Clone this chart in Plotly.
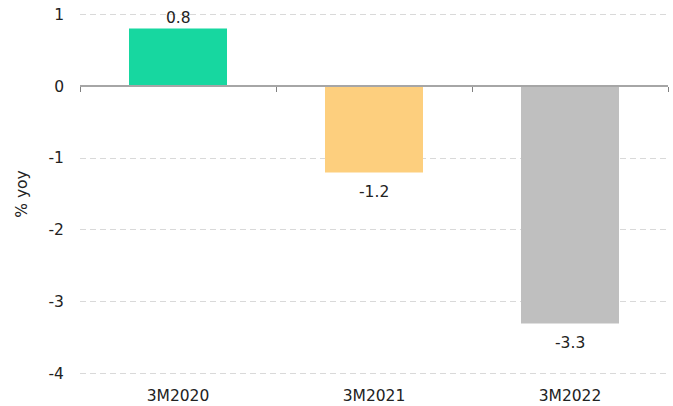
import plotly.graph_objects as go

categories = ["3M2020", "3M2021", "3M2022"]
values = [0.8, -1.2, -3.3]
bar_colors = ["#17D7A0", "#FDCF7E", "#BFBFBF"]
y_ticks = [1, 0, -1, -2, -3, -4]

FONT = "DejaVu Sans, Verdana, sans-serif"
TEXT = "#222222"
FS = 15.5

fig = go.Figure()
fig.add_trace(go.Bar(
    x=categories, y=values, marker=dict(color=bar_colors, line=dict(width=0)),
    width=0.5, hoverinfo="skip", showlegend=False,
))

# value labels: just above positive bars, a little further below negative ones
for c, v in zip(categories, values):
    fig.add_annotation(
        x=c, y=v, text=f"{v:.1f}", showarrow=False,
        yanchor="bottom" if v >= 0 else "top",
        yshift=0 if v >= 0 else -9,
        font=dict(family=FONT, size=FS, color=TEXT),
    )

# zero line with tick marks at the category boundaries
fig.add_trace(go.Scatter(x=[None], y=[None], xaxis="x2", showlegend=False, hoverinfo="skip"))

# small padding around [-4, 1] so the outer grid lines are kept
y_lo, y_hi = -4.03, 1.03
zero_pos = (0 - y_lo) / (y_hi - y_lo)

fig.update_layout(
    width=673, height=406,
    margin=dict(l=80, r=5, t=12, b=30),
    plot_bgcolor="white", paper_bgcolor="white",
    font=dict(family=FONT, size=FS, color=TEXT),
    xaxis=dict(
        type="category", range=[-0.5, 2.5], showline=False, showgrid=False,
        zeroline=False, ticks="", tickfont=dict(size=FS, color=TEXT),
        ticklabelstandoff=8, fixedrange=True, automargin=False,
    ),
    xaxis2=dict(
        overlaying="x", anchor="free", position=zero_pos, range=[-0.5, 2.5],
        showline=True, linecolor="#A6A6A6", linewidth=2,
        ticks="outside", ticklen=5, tickcolor="#808080", tickwidth=1,
        tickmode="array", tickvals=[-0.5, 0.5, 1.5, 2.5],
        showticklabels=False, showgrid=False, zeroline=False, automargin=False,
    ),
    yaxis=dict(
        range=[y_lo, y_hi], tickmode="array", tickvals=y_ticks,
        ticktext=[str(t) for t in y_ticks],
        showgrid=True, gridcolor="#D9D9D9", griddash="6px,4px", gridwidth=1,
        zeroline=False, showline=False, ticks="", automargin=False,
        ticklabelstandoff=15, tickfont=dict(size=FS, color=TEXT),
        title=dict(text="% yoy", font=dict(size=FS, color=TEXT), standoff=17),
    ),
)

fig.write_html("out.html")
